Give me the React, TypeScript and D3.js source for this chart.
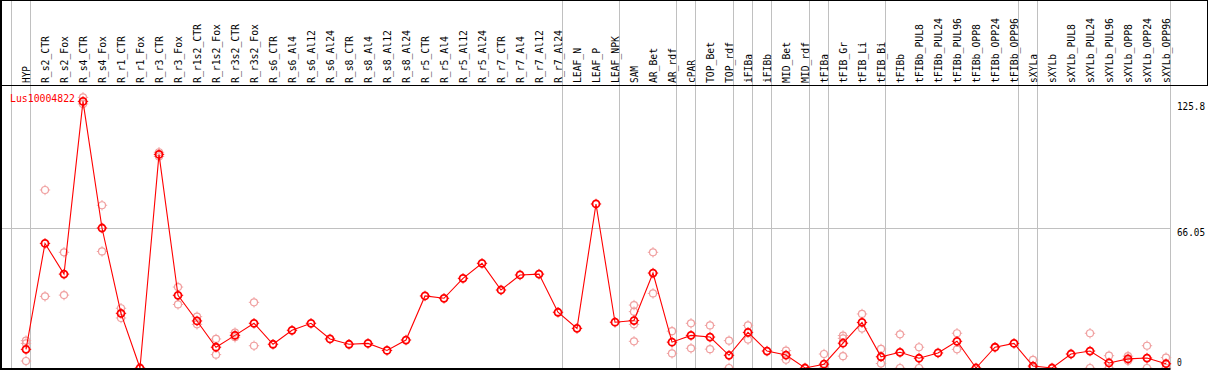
import React from "react";
import * as d3 from "d3";

const categories = [
  "HYP", "R_s2_CTR", "R_s2_Fox", "R_s4_CTR", "R_s4_Fox", "R_r1_CTR", "R_r1_Fox", "R_r3_CTR", "R_r3_Fox",
  "R_r1s2_CTR", "R_r1s2_Fox", "R_r3s2_CTR", "R_r3s2_Fox", "R_s6_CTR", "R_s6_Al4", "R_s6_Al12", "R_s6_Al24",
  "R_s8_CTR", "R_s8_Al4", "R_s8_Al12", "R_s8_Al24", "R_r5_CTR", "R_r5_Al4", "R_r5_Al12", "R_r5_Al24",
  "R_r7_CTR", "R_r7_Al4", "R_r7_Al12", "R_r7_Al24", "LEAF_N", "LEAF_P", "LEAF_NPK", "SAM", "AR_Bet", "AR_rdf",
  "cPAR", "TOP_Bet", "TOP_rdf", "iFIBa", "iFIBb", "MID_Bet", "MID_rdf", "tFIBa", "tFIB_Gr", "tFIB_Li", "tFIB_Bi",
  "tFIBb", "tFIBb_PUL8", "tFIBb_PUL24", "tFIBb_PUL96", "tFIBb_OPP8", "tFIBb_OPP24", "tFIBb_OPP96",
  "sXYLa", "sXYLb", "sXYLb_PUL8", "sXYLb_PUL24", "sXYLb_PUL96", "sXYLb_OPP8", "sXYLb_OPP24", "sXYLb_OPP96",
];

const meanValues = [
  8.8, 58.8, 44.3, 125.8, 66.05, 25.8, 0, 100.8, 34.3,
  22.2, 9.8, 15.4, 21.1, 11.2, 17.8, 21.1, 13.7,
  11.2, 11.6, 8.3, 13.2, 34.0, 32.9, 42.3, 49.4,
  36.8, 43.9, 44.3, 26.3, 18.7, 77.4, 21.6, 22.4, 44.8, 12.2,
  15.4, 14.6, 6.0, 16.8, 8.0, 6.1, 0, 1.8, 11.7, 21.5, 5.3,
  7.4, 4.6, 7.1, 12.6, 0, 9.8, 11.6,
  0.9, 0, 6.6, 8.0, 2.4, 4.3, 4.7, 2.0,
];

const replicateValues: number[][] = [
  [12.9, 11.6, 3.3], [84.0, 33.8], [54.6, 34.4], [127.7, 124.6], [76.8, 55.0], [28.2, 23.6], [], [101.8, 99.8], [38.2, 30.0],
  [24.2, 20.6], [13.7, 6.3], [16.7, 14.5], [31.0, 10.5], [], [], [], [],
  [], [], [], [], [], [], [], [],
  [], [], [], [], [], [], [], [29.7, 26.6, 20.6, 12.6], [54.6, 35.2], [17.4, 6.9],
  [21.1, 9.3], [20.1, 8.9], [12.9, 0], [20.1, 13.4], [], [8.2, 3.9], [], [6.6, 0], [15.3, 14.0, 5.6], [25.5, 18.6], [9.0, 2.1],
  [15.9, 0], [9.8, 0], [], [16.4, 8.8], [], [], [],
  [3.8, 0], [], [], [16.4, 0], [5.8, 0], [5.6, 3.4], [10.5, 0], [4.9, 0],
];

// group separators drawn after these columns ("" = before the first column)
const separatorsAfter = [
  "", "HYP", "R_r7_Al24", "LEAF_NPK", "AR_rdf", "cPAR", "TOP_rdf", "iFIBa", "iFIBb",
  "MID_rdf", "tFIBa", "tFIB_Bi", "tFIBb_OPP96", "sXYLa", "sXYLb_OPP96",
];

const tickValues = [0, 66.05, 125.8];
const tickLabels = ["0", "66.05", "125.8"];
const seriesName = "Lus10004822";

const W = 1209;
const H = 370;
const FONT = "'DejaVu Sans Mono', 'Liberation Mono', monospace";
const RED = "#ff0000";
const PALE = "#f0a0a0";
const GRID = "#c0c0c0";

function Marker({ x, y, color, sw }: { x: number; y: number; color: string; sw: number }) {
  const r = 3.5;
  const t = 5.2;
  return (
    <g stroke={color} strokeWidth={sw} fill="none">
      <circle cx={x} cy={y} r={r} />
      <line x1={x} y1={y - r} x2={x} y2={y - t} strokeWidth={1} />
      <line x1={x} y1={y + r} x2={x} y2={y + t} strokeWidth={1} />
      <line x1={x - r} y1={y} x2={x - t} y2={y} strokeWidth={1} />
      <line x1={x + r} y1={y} x2={x + t} y2={y} strokeWidth={1} />
    </g>
  );
}

export default function App() {
  const x = d3.scalePoint<string>().domain(categories).range([26, 1166]).padding(0);
  const step = x.step();
  const y = d3.scaleLinear().domain([0, 125.8]).range([368, 101.4]);
  const plotRight = (x(categories[categories.length - 1]) as number) + 4.5;

  const line = d3
    .line<number>()
    .x((_, i) => x(categories[i]) as number)
    .y((d) => y(d));

  const sepX = separatorsAfter.map((name) =>
    name === "" ? (x(categories[0]) as number) - step + 4.5 : (x(name) as number) + 4.5
  );

  return (
    <svg
      width={W}
      height={H}
      style={{ position: "absolute", left: 0, top: 0, display: "block", background: "#fff" }}
      fontFamily={FONT}
    >
      <rect x={0} y={0} width={W} height={H} fill="#fff" />
      {/* vertical group separators */}
      {sepX.map((sx, i) => (
        <line key={"s" + i} x1={Math.floor(sx) + 0.5} x2={Math.floor(sx) + 0.5} y1={0} y2={368} stroke={GRID} strokeWidth={1} />
      ))}
      {/* horizontal grid */}
      <line x1={0} x2={plotRight} y1={Math.round(y(66.05)) + 0.5} y2={Math.round(y(66.05)) + 0.5} stroke={GRID} strokeWidth={1} />

      {/* column labels */}
      {categories.map((c) => {
        const cx = (x(c) as number) + 3.5;
        return (
          <text
            key={c}
            transform={`translate(${cx},83) rotate(-90)`}
            fontSize={11}
            fill="#000"
            textLength={c.length * 6 - 1}
            lengthAdjust="spacingAndGlyphs"
          >
            {c}
          </text>
        );
      })}

      {/* replicate points */}
      {replicateValues.map((reps, i) =>
        reps.map((v, j) => <Marker key={`r${i}-${j}`} x={x(categories[i]) as number} y={y(v)} color={PALE} sw={1.2} />)
      )}

      {/* mean line */}
      <path d={line(meanValues) || ""} fill="none" stroke={RED} strokeWidth={1.1} />
      {meanValues.map((v, i) => (
        <Marker key={"m" + i} x={x(categories[i]) as number} y={y(v)} color={RED} sw={1.8} />
      ))}

      {/* series name */}
      <text x={10} y={101.5} fontSize={11} fill={RED} textLength={seriesName.length * 6 - 1} lengthAdjust="spacingAndGlyphs">
        {seriesName}
      </text>

      {/* right axis labels */}
      {tickValues.map((v, i) => (
        <text
          key={"t" + i}
          x={1177}
          y={v === 0 ? y(v) - 2.5 : y(v) + 8.3}
          fontSize={11}
          fill="#000"
          textLength={tickLabels[i].length * 5.8 - 1}
          lengthAdjust="spacingAndGlyphs"
        >
          {tickLabels[i]}
        </text>
      ))}

      {/* frame */}
      <rect x={0} y={0} width={W - 1} height={1} fill="#000" />
      <rect x={0} y={85} width={W - 1} height={1} fill="#000" />
      <rect x={W - 2} y={0} width={1} height={86} fill="#000" />
      <rect x={0} y={0} width={2} height={H} fill="#000" />
      <rect x={0} y={368} width={plotRight} height={2} fill="#000" />
    </svg>
  );
}
